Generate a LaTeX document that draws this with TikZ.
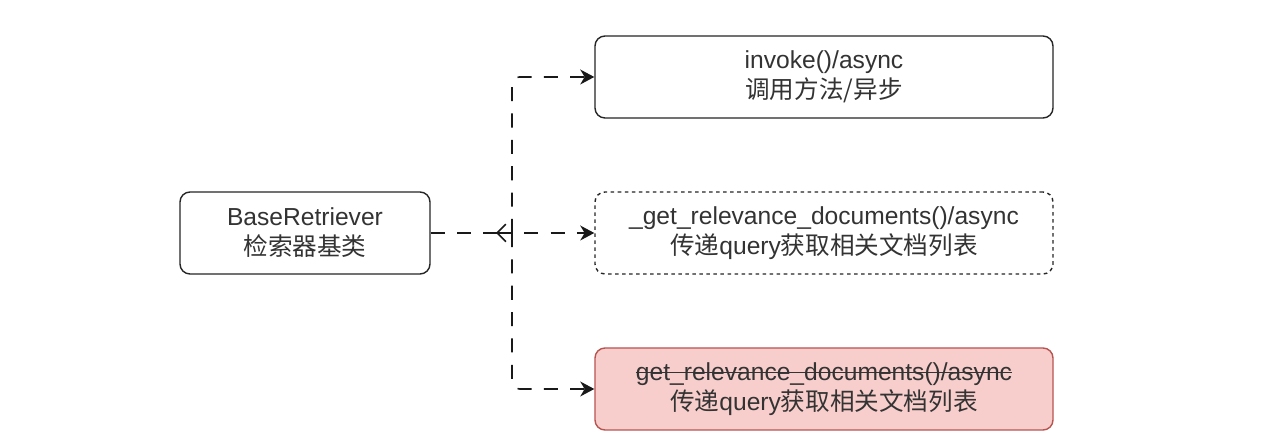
\documentclass[tikz,border=0pt]{standalone}
\usepackage{fontspec}
\setmainfont{Liberation Sans}
\newfontfamily\cjk{Noto Sans CJK SC}
\usepackage{xcolor}
\usepackage{tikz}
\usetikzlibrary{positioning,arrows.meta}

\definecolor{txtgray}{HTML}{333333}
\definecolor{redfill}{HTML}{F8CECC}
\definecolor{redline}{HTML}{B85450}

% struck-through text
\newcommand{\strikeline}[1]{\setbox0\hbox{#1}\rlap{\rule[0.3em]{\wd0}{0.7pt}}\box0}

\tikzset{
	box/.style={draw=black!85, line width=0.8pt, rounded corners=0.2cm, align=center,
		minimum height=1.64cm, text=txtgray, font=\fontsize{14}{17}\selectfont},
	link/.style={draw=black!90, line width=0.9pt, dash pattern=on 8pt off 7pt},
	tip/.style={-{Stealth[length=8pt,width=8.5pt,inset=2.5pt]}}
}

\begin{document}
\begin{tikzpicture}
				\useasboundingbox[fill=white] (0,0) rectangle (25.6,8.76);
				% Base class
				\node[box, minimum width=5cm] (base) at (6.10,4.10)
				{BaseRetriever\\{\cjk 检索器基类}};
				% Methods
				\node[box, minimum width=9.16cm] (invoke) at (16.48,7.22)
				{invoke()/async\\{\cjk 调用方法/异步}};
				\node[box, minimum width=9.16cm, dash pattern=on 2pt off 2pt] (getrel) at (16.48,4.10)
				{\_get\_relevance\_documents()/async\\{\cjk 传递}query{\cjk 获取相关文档列表}};
				\node[box, minimum width=9.16cm, fill=redfill, draw=redline] (oldrel) at (16.48,0.98)
				{\strikeline{get\_relevance\_documents()/async}\\{\cjk 传递}query{\cjk 获取相关文档列表}};
				\coordinate []  (hub) at (10.24,4.10) ;
				\coordinate []  (hubtip) at (9.92,4.10) ;
				% Connectors
				\draw[link] (base.east) -- (hub);
				\draw[link, {Straight Barb[length=5pt,width=10pt]}-{Stealth[length=8pt,width=8.5pt,inset=2.5pt]}] (hubtip) -- (getrel.west);
				\draw[link, tip, rounded corners=0.15cm] (hub) |- (invoke.west);
				\draw[link, tip, rounded corners=0.15cm] (hub) |- (oldrel.west);
			\end{tikzpicture}
\end{document}
